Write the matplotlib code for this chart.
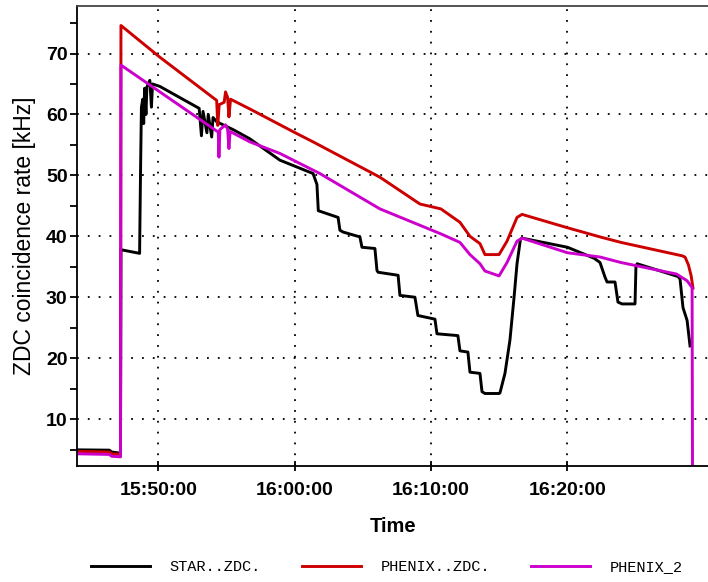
import datetime as dt
import matplotlib
matplotlib.use("Agg")
import matplotlib.pyplot as plt
import matplotlib.dates as mdates
from matplotlib.ticker import MultipleLocator

# values (time, rate in kHz)
star_t = ["15:44:05", "15:46:25", "15:46:35", "15:47:14", "15:47:16", "15:48:38", "15:48:42",
          "15:48:46", "15:48:52", "15:48:56", "15:49:00", "15:49:06", "15:49:10", "15:49:23",
          "15:49:30", "15:49:35", "15:50:07", "15:53:00", "15:53:10", "15:53:17", "15:53:34",
          "15:53:40", "15:53:55", "15:54:01", "15:54:17", "15:55:30", "15:56:43", "15:58:55",
          "16:01:21", "16:01:38", "16:01:44", "16:02:00", "16:03:11", "16:03:19", "16:03:33",
          "16:04:47", "16:04:56", "16:05:53", "16:06:02", "16:06:07", "16:07:35", "16:07:43",
          "16:08:49", "16:09:02", "16:10:17", "16:10:26", "16:11:58", "16:12:07", "16:12:42",
          "16:12:51", "16:13:35", "16:13:44", "16:13:57", "16:14:59", "16:15:03", "16:15:25",
          "16:15:47", "16:16:05", "16:16:18", "16:16:33", "16:16:40", "16:20:00", "16:21:57",
          "16:22:23", "16:22:45", "16:22:54", "16:23:29", "16:23:42", "16:24:00", "16:24:57",
          "16:25:01", "16:25:06", "16:28:06", "16:28:15", "16:28:28", "16:28:46", "16:28:59"]
star_v = [4.95, 4.9, 4.6, 4.4, 37.8, 37.2, 50.3,
          61.2, 62.5, 58.5, 64.3, 60.0, 64.5, 65.6,
          61.2, 65.0, 64.6, 61.0, 56.5, 60.5, 57.0,
          60.0, 56.3, 59.5, 58.8, 57.5, 56.0, 52.5,
          50.3, 48.5, 44.2, 44.0, 43.1, 41.0, 40.7,
          39.9, 38.2, 38.0, 34.4, 34.1, 33.6, 30.3,
          30.0, 27.0, 26.4, 24.0, 23.7, 21.2, 21.0,
          17.7, 17.5, 14.5, 14.2, 14.2, 14.3, 17.5,
          23.0, 30.0, 35.5, 39.5, 39.7, 38.2, 36.4,
          35.7, 33.3, 32.5, 32.5, 29.2, 28.9, 28.9,
          34.9, 35.5, 33.4, 33.0, 28.3, 26.2, 22.0]

phenix_t = ["15:44:05", "15:46:25", "15:46:35", "15:47:14", "15:47:16", "15:50:07", "15:54:17",
            "15:54:22", "15:54:28", "15:54:50", "15:54:56", "15:55:05", "15:55:11", "15:55:18",
            "15:56:43", "15:59:57", "16:01:21", "16:06:15", "16:09:11", "16:10:43", "16:12:07",
            "16:12:51", "16:13:35", "16:13:57", "16:14:59", "16:15:34", "16:16:18", "16:16:40",
            "16:20:00", "16:22:23", "16:23:55", "16:28:24", "16:28:37", "16:28:52", "16:29:04",
            "16:29:12"]
phenix_v = [4.7, 4.6, 4.3, 4.2, 74.6, 69.4, 62.3,
            58.2, 61.6, 62.0, 63.7, 62.8, 59.6, 62.5,
            60.9, 57.1, 55.5, 49.7, 45.3, 44.5, 42.3,
            40.0, 38.8, 37.0, 37.0, 39.2, 43.1, 43.6,
            41.4, 39.9, 39.0, 36.8, 36.6, 35.3, 33.5,
            31.5]

phenix2_t = ["15:44:05", "15:46:25", "15:46:35", "15:47:14", "15:47:16", "15:54:24", "15:54:27",
             "15:54:31", "15:54:56", "15:55:05", "15:55:11", "15:55:16", "15:56:43", "15:58:55",
             "16:01:51", "16:06:15", "16:10:43", "16:12:07", "16:12:51", "16:13:35", "16:13:57",
             "16:14:59", "16:15:34", "16:16:18", "16:16:40", "16:20:00", "16:22:23", "16:23:55",
             "16:28:00", "16:28:46", "16:29:08", "16:29:10"]
phenix2_v = [4.3, 4.2, 3.9, 3.8, 68.1, 57.1, 53.0,
             57.5, 58.3, 57.6, 54.4, 57.2, 55.5, 53.6,
             50.3, 44.5, 40.4, 39.0, 37.0, 35.5, 34.3,
             33.5, 35.7, 39.2, 39.7, 37.3, 36.6, 35.7,
             33.8, 32.7, 31.6, 0.0]

tick_times = ["15:50:00", "16:00:00", "16:10:00", "16:20:00"]
x_range = ["15:44:04", "16:30:18"]


def to_time(labels):
    return [dt.datetime.strptime("2000-01-01 " + s, "%Y-%m-%d %H:%M:%S") for s in labels]


fig = plt.figure(figsize=(7.08, 5.82), dpi=100)
ax = fig.add_axes([77.3 / 708, 1 - 466 / 582, 1 - 77.3 / 708, 460 / 582])

ax.plot(to_time(star_t), star_v, color="black", lw=2.1, label="STAR..ZDC.")
ax.plot(to_time(phenix_t), phenix_v, color="#cc0000", lw=2.1, label="PHENIX..ZDC.")
ax.plot(to_time(phenix2_t), phenix2_v, color="#cc00cc", lw=2.1, label="PHENIX_2")

ax.set_xlim(to_time(x_range))
ax.set_ylim(2.3, 77.8)

ax.set_xticks(to_time(tick_times))
ax.xaxis.set_major_formatter(mdates.DateFormatter("%H:%M:%S"))
ax.yaxis.set_major_locator(MultipleLocator(10))
ax.yaxis.set_minor_locator(MultipleLocator(5))
ax.set_yticks([10, 20, 30, 40, 50, 60, 70])

ax.grid(True, color="black", linestyle=(0, (1, 5)), linewidth=1.3)
for side in ["left", "bottom", "top"]:
    ax.spines[side].set_linewidth(1.3)
ax.spines["top"].set_color("#444444")
ax.spines["right"].set_visible(False)

tick_font = dict(family="Liberation Sans", weight="bold", size=14)
ax.tick_params(axis="x", direction="inout", length=7, width=1.3, pad=8)
ax.tick_params(axis="y", which="both", direction="out", length=5, width=1.3, pad=2)
for lab in ax.get_xticklabels() + ax.get_yticklabels():
    lab.set_fontproperties(tick_font)

ax.set_xlabel("Time", family="Liberation Sans", weight="bold", size=14.5, labelpad=13)
ax.set_ylabel("ZDC coincidence rate [kHz]", family="Liberation Sans", size=16.5, labelpad=7)

fig.legend(loc="center", bbox_to_anchor=(387 / 708, 1 - 567 / 582), ncol=3, frameon=False,
           prop=dict(family="Liberation Mono", size=11), handlelength=3.85,
           handletextpad=1.3, columnspacing=2.7)

fig.savefig("out.png", dpi=100)
